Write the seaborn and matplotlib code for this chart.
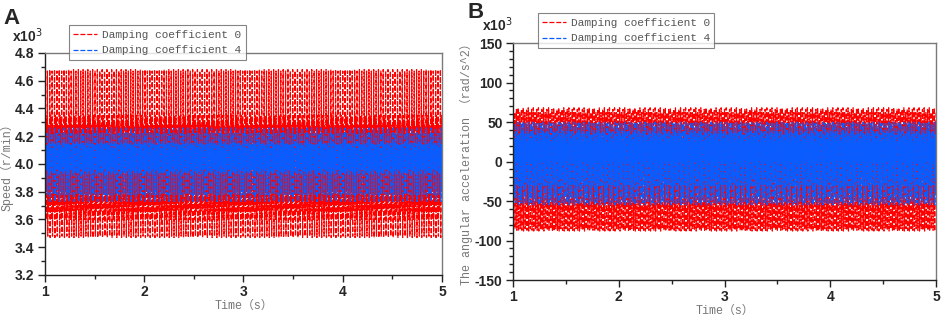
import numpy as np
import pandas as pd
import matplotlib
matplotlib.use('Agg')
import matplotlib.pyplot as plt
from matplotlib.ticker import MultipleLocator
import seaborn as sns

# one oscillation cycle of each signal
# panel A: speed (x10^3 r/min)
speed_damp0_cycle = [4.68, 3.47, 4.35, 3.80, 4.31, 3.60, 4.67, 3.48, 4.28, 3.66, 4.22, 3.72]
speed_damp4_cycle = [4.26, 3.73, 4.14, 3.95, 4.12, 3.97, 4.22, 3.78, 4.10, 3.98, 4.15, 3.93]
# panel B: angular acceleration (x10^3 rad/s^2)
acc_damp0_cycle = [68, -88, 50, -40, 62, -85, 45, -20, 66, -87, 42, -60]
acc_damp4_cycle = [50, -55, 35, -20, 30, -45, 48, -52, 25, 0, 38, -30]

t_start, t_end, dt = 1.0, 5.0, 0.004
labels = ['Damping coefficient 0', 'Damping coefficient 4']
colors = ['#ff0000', '#0a5cff']

t = np.arange(t_start, t_end + dt / 2, dt)


def expand(cycle):
    return np.resize(np.array(cycle, dtype=float), len(t))


df_speed = pd.DataFrame({'t': t, 'd0': expand(speed_damp0_cycle), 'd4': expand(speed_damp4_cycle)})
df_acc = pd.DataFrame({'t': t, 'd0': expand(acc_damp0_cycle), 'd4': expand(acc_damp4_cycle)})

sns.set_style('ticks')
plt.rcParams['font.family'] = ['Liberation Sans', 'DejaVu Sans']
plt.rcParams['axes.unicode_minus'] = False

fig = plt.figure(figsize=(9.41, 3.15), dpi=100)
ax1 = fig.add_axes([0.0478, 0.127, 0.4219, 0.7048])
ax2 = fig.add_axes([0.5452, 0.111, 0.4495, 0.7524])

mono = ['Liberation Mono', 'Noto Sans CJK SC']


def draw(ax, df, ylim, ymaj, ymin, ylabel, leg_anchor, xtxt, ytxt):
    for col, lab, c in zip(['d0', 'd4'], labels, colors):
        sns.lineplot(data=df, x='t', y=col, ax=ax, color=c, lw=0.9,
                     linestyle=(0, (4, 1.5)), label=lab, estimator=None)
    ax.set_xlim(t_start, t_end)
    ax.set_ylim(*ylim)
    ax.xaxis.set_major_locator(MultipleLocator(1))
    ax.xaxis.set_minor_locator(MultipleLocator(0.5))
    ax.yaxis.set_major_locator(MultipleLocator(ymaj))
    ax.yaxis.set_minor_locator(MultipleLocator(ymin))
    ax.tick_params(which='major', direction='out', length=5, width=1, labelsize=10,
                   color='#222', pad=2.5)
    ax.tick_params(which='minor', direction='out', length=3, width=1, color='#222')
    for lbl in ax.get_xticklabels() + ax.get_yticklabels():
        lbl.set_fontweight('bold')
    for s in ax.spines.values():
        s.set_color('#7a7a7a')
        s.set_linewidth(1)
    ax.spines['left'].set_color('#222')
    ax.spines['bottom'].set_color('#222')
    ax.set_xlabel('Time（s）', family=mono, fontsize=8.5, color='#777', labelpad=0)
    ax.set_ylabel(ylabel, family=mono, fontsize=8.5, color='#777', labelpad=1)
    leg = ax.legend(loc='upper left', bbox_to_anchor=leg_anchor, bbox_transform=fig.transFigure,
                    prop={'family': mono, 'size': 8}, frameon=True, fancybox=False,
                    handlelength=2.2, handletextpad=0.4, borderpad=0.4, labelspacing=0.5)
    leg.get_frame().set_edgecolor('#666')
    leg.get_frame().set_linewidth(0.8)
    for txt in leg.get_texts():
        txt.set_color('#555')
    ax.text(xtxt, ytxt, 'x10$^3$', transform=ax.transAxes, ha='right', va='bottom',
            fontsize=10, fontweight='bold')


draw(ax1, df_speed, (3.2, 4.8), 0.2, 0.1, 'Speed（r/min）', (0.067, 0.937), -0.005, 1.035)
draw(ax2, df_acc, (-150, 150), 50, 10, 'The angular acceleration （rad/s^2）', (0.5654, 0.975), 0.0, 1.04)

fig.text(0.004, 0.975, 'A', fontsize=16, fontweight='bold', va='top')
fig.text(0.497, 0.995, 'B', fontsize=16, fontweight='bold', va='top')

fig.savefig('out.png', dpi=100)
